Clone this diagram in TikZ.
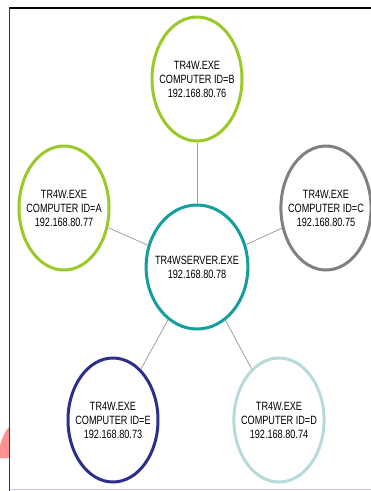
\documentclass[tikz,border=0pt]{standalone}
\usepackage{fontspec}
\newfontfamily\nodefont[FakeStretch=0.76]{Liberation Sans}
\usetikzlibrary{shapes.geometric}
\definecolor{limering}{RGB}{154,202,40}
\definecolor{tealring}{RGB}{20,158,158}
\definecolor{grayring}{RGB}{128,128,128}
\definecolor{navyring}{RGB}{44,48,140}
\definecolor{paleing}{RGB}{184,218,218}
\definecolor{edgegray}{RGB}{160,160,160}
\definecolor{wedgepink}{RGB}{255,145,145}
\definecolor{framenavy}{RGB}{40,40,150}
\definecolor{framelav}{RGB}{200,200,255}
\begin{document}
\begin{tikzpicture}[x=1pt,y=-1pt]
  \useasboundingbox (0,0) rectangle (371,491);
  \fill[white] (0,0) rectangle (371,491);
  \fill[wedgepink] (0,458) -- (0,446) .. controls (2,438) and (5,431) .. (9,427) -- (9,458) -- cycle;
  \draw[black,line width=2pt] (9,7.5) -- (371,7.5);
  \draw[framenavy,line width=1.5pt] (9.5,6.5) -- (9.5,491);
  \draw[framelav,line width=1.5pt] (10,489.5) -- (371,489.5);
  \begin{scope}[every node/.style={ellipse,draw,line width=3pt,minimum width=90pt,minimum height=124pt,inner xsep=-6pt,inner ysep=0pt,align=center,font=\nodefont\fontsize{12}{14}\selectfont}]
  \node[draw=limering] (b) at (197,79) {TR4W.EXE\\COMPUTER ID=B\\192.168.80.76};
  \node[draw=limering] (a) at (64,208) {TR4W.EXE\\COMPUTER ID=A\\192.168.80.77};
  \node[draw=grayring] (c) at (326,208) {TR4W.EXE\\COMPUTER ID=C\\192.168.80.75};
  \node[draw=tealring] (s) at (197,267) {TR4WSERVER.EXE\\192.168.80.78};
  \node[draw=navyring] (e) at (113,420) {TR4W.EXE\\COMPUTER ID=E\\192.168.80.73};
  \node[draw=paleing] (d) at (279,420) {TR4W.EXE\\COMPUTER ID=D\\192.168.80.74};
  \end{scope}
  \begin{scope}[every edge/.style={draw=edgegray,line width=0.8pt}]
  \path (s) edge (b);
  \path (s) edge (a);
  \path (s) edge (c);
  \path (s) edge (e);
  \path (s) edge (d);
  \end{scope}
\end{tikzpicture}
\end{document}
